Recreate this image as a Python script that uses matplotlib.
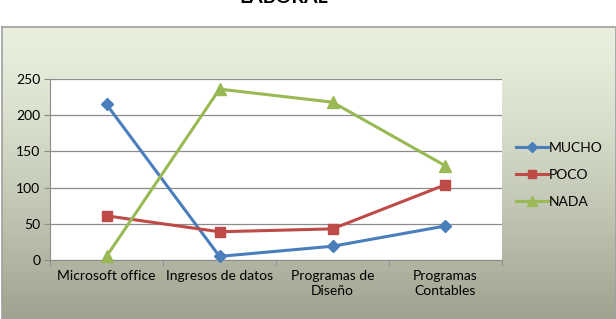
import numpy as np
import matplotlib
matplotlib.use('Agg')
import matplotlib.pyplot as plt

categories = ['Microsoft office', 'Ingresos de datos', 'Programas de\nDiseño', 'Programas\nContables']
mucho = [215, 5, 19, 47]
poco = [61, 39, 43, 104]
nada = [5, 236, 218, 130]
yticks = [0, 50, 100, 150, 200, 250]

plt.rcParams['font.family'] = ['Lato', 'DejaVu Sans']

W, H = 616, 319
fig = plt.figure(figsize=(W / 100, H / 100), dpi=100)

# gradient background of the chart area
bg = fig.add_axes([0, 0, 1, 1], zorder=0)
bg.set_xlim(0, W)
bg.set_ylim(H, 0)
bg.axis('off')
top = np.array([233, 240, 221]) / 255
bot = np.array([158, 163, 143]) / 255
t = np.linspace(0, 1, 200)[:, None] ** 1.3
grad = (top[None, :] * (1 - t) + bot[None, :] * t)[:, None, :]
bg.imshow(grad, extent=[2, W, H, 27], aspect='auto', interpolation='bilinear')
bg.plot([2, W, W, 2, 2], [27, 27, H, H, 27], color='#a0a0a0', lw=1.2)

fig.text(284 / W, 1 - 3 / H, 'LABORAL', ha='center', va='baseline',
         fontsize=14, fontweight='bold', color='black')

ax = fig.add_axes([50 / W, 1 - 260 / H, 452 / W, 181 / H], zorder=1)
ax.set_facecolor('white')
x = np.arange(len(categories))
ax.plot(x, mucho, color='#4a7ebb', lw=2.2, marker='D', ms=6, label='MUCHO', clip_on=False, zorder=3)
ax.plot(x, poco, color='#be4b48', lw=2.2, marker='s', ms=7.5, label='POCO', clip_on=False, zorder=3)
ax.plot(x, nada, color='#98b954', lw=2.2, marker='^', ms=8, label='NADA', clip_on=False, zorder=3)

ax.set_xlim(-0.5, len(categories) - 0.5)
ax.set_ylim(0, 250)
ax.set_yticks(yticks)
ax.yaxis.grid(True, color='#8c8c8c', lw=0.9)
ax.set_axisbelow(True)
ax.set_xticks(x)
ax.set_xticklabels(categories, fontsize=10, linespacing=1.3)
ax.set_xticks(np.arange(len(categories) + 1) - 0.5, minor=True)
ax.tick_params(axis='x', which='major', length=0, pad=7)
ax.tick_params(axis='x', which='minor', length=4, color='#8c8c8c', direction='out')
ax.tick_params(axis='y', length=4, color='#8c8c8c', labelsize=10, pad=3)
for s in ['top', 'right']:
    ax.spines[s].set_visible(False)
ax.spines['left'].set_color('#8c8c8c')
ax.spines['bottom'].set_color('#8c8c8c')

leg = ax.legend(loc='center left', bbox_to_anchor=(1.03, 0.47), frameon=False, borderpad=0,
                borderaxespad=0, fontsize=10, handlelength=2.3, handletextpad=0.1,
                labelspacing=1.05, markerscale=0.85)

fig.savefig('out.png', dpi=100)
